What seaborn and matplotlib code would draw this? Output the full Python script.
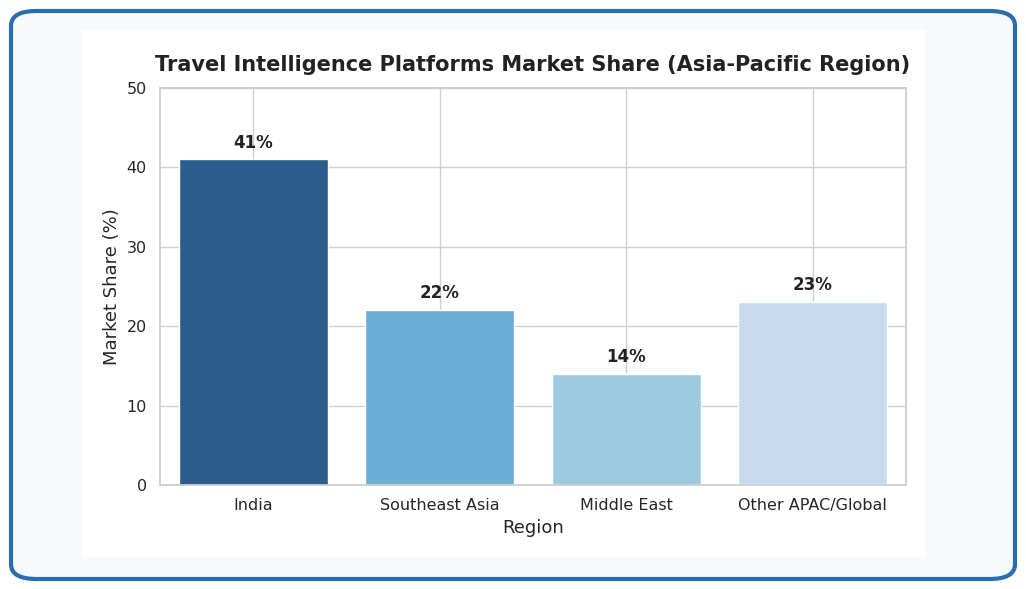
import matplotlib
matplotlib.use("Agg")
import matplotlib.pyplot as plt
import seaborn as sns
import pandas as pd
from matplotlib.patches import FancyBboxPatch, Rectangle

regions = ["India", "Southeast Asia", "Middle East", "Other APAC/Global"]
shares = [41, 22, 14, 23]
colors = ["#2b5c8c", "#6aaed6", "#9ecae1", "#c6dbef"]

sns.set_theme(style="whitegrid")
plt.rcParams['font.family'] = ['DejaVu Sans']

fig = plt.figure(figsize=(10.26, 5.89), dpi=100)
fig.patch.set_facecolor("white")
fig.patches.append(FancyBboxPatch((11/1026, 10/589), 1004/1026, 568/589,
    boxstyle="round,pad=0,rounding_size=0.025", transform=fig.transFigure,
    facecolor="#f7f9fc", edgecolor="#2a6cb0", linewidth=3, zorder=-2))
fig.patches.append(Rectangle((82/1026, 32/589), 843/1026, 527/589,
    transform=fig.transFigure, facecolor="white", edgecolor="none", zorder=-1))

ax = fig.add_axes([160/1026, 1-485/589, 746/1026, 397/589])
ax.set_zorder(1)
df = pd.DataFrame({"Region": regions, "Share": shares})
sns.barplot(data=df, x="Region", y="Share", hue="Region", palette=colors,
            legend=False, width=0.8, saturation=1, ax=ax)
for i, v in enumerate(shares):
    ax.text(i, v + 1, f"{v}%", ha="center", va="bottom", fontsize=12, fontweight="bold", color="#222222")
ax.set_ylim(0, 50)
ax.set_xlabel("Region", fontsize=13)
ax.set_ylabel("Market Share (%)", fontsize=13)
ax.tick_params(labelsize=11.5)
ax.set_title("Travel Intelligence Platforms Market Share (Asia-Pacific Region)",
             fontsize=15, fontweight="bold", pad=12, color="#222222")
for s in ax.spines.values():
    s.set_color("#cccccc")
ax.grid(True, color="#d0d0d0")
ax.set_axisbelow(True)
fig.savefig("out.png", dpi=100)
